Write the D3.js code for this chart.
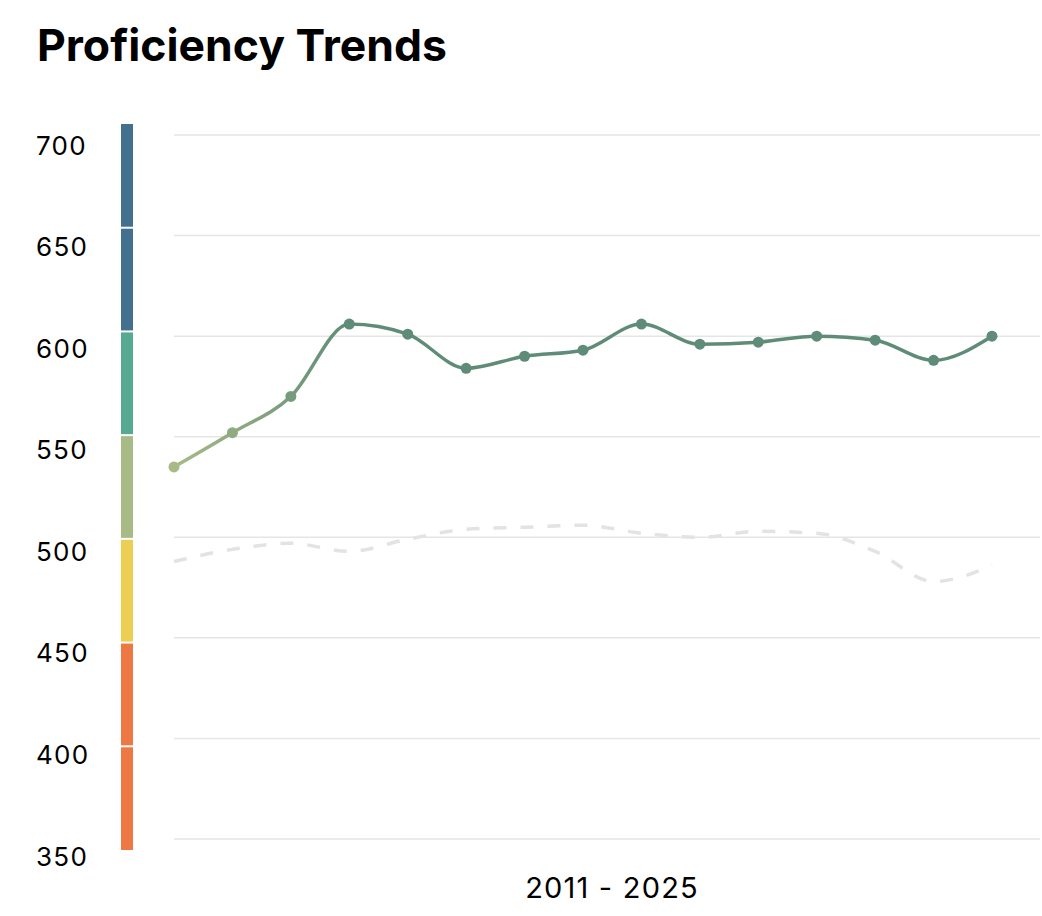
<!DOCTYPE html>
<html>
<head>
<meta charset="utf-8">
<script src="https://cdn.jsdelivr.net/npm/d3@7"></script>
<style>
  body { margin: 0; background: #fff; }
  svg { display: block; font-family: Inter, "Noto Sans", sans-serif; }
</style>
</head>
<body>
<svg width="1042" height="916"></svg>
<script>
// chart values
const years     = [2011, 2012, 2013, 2014, 2015, 2016, 2017, 2018, 2019, 2020, 2021, 2022, 2023, 2024, 2025];
const scores    = [535, 552, 570, 606, 601, 584, 590, 593, 606, 596, 597, 600, 598, 588, 600];
const reference = [488, 494, 497, 493, 499, 504, 505, 506, 502, 500, 503, 502, 493, 478, 486];
const yTicks    = [350, 400, 450, 500, 550, 600, 650, 700];
const bands     = [
    {from: 650, to: 700, color: "#44708f"},
    {from: 600, to: 650, color: "#44708f"},
    {from: 550, to: 600, color: "#55aa91"},
    {from: 500, to: 550, color: "#a8bb86"},
    {from: 450, to: 500, color: "#ecce52"},
    {from: 400, to: 450, color: "#ee7844"},
    {from: 350, to: 400, color: "#ee7844"}
];
const title  = "Proficiency Trends";
const xLabel = "2011 - 2025";

const svg = d3.select("svg");

const x = d3.scaleLinear().domain([2011, 2025]).range([174, 992]);
const y = d3.scaleLinear().domain([350, 700]).range([839, 135]);
const yBar   = d3.scaleLinear().domain([350, 700]).range([850, 124]);
const yLabel = d3.scaleLinear().domain([350, 700]).range([856, 145]);

svg.append("text")
    .attr("x", 37).attr("y", 61)
    .attr("font-size", 44.5).attr("font-weight", 700)
    .attr("fill", "#000")
    .text(title);

// grid
svg.append("g")
    .selectAll("line")
    .data(yTicks)
    .join("line")
    .attr("x1", 174).attr("x2", 1040)
    .attr("y1", d => y(d)).attr("y2", d => y(d))
    .attr("stroke", "#e5e5e5").attr("stroke-width", 1.5);

// colour band axis
svg.append("g")
    .selectAll("rect")
    .data(bands)
    .join("rect")
    .attr("x", 121).attr("width", 12)
    .attr("y", d => yBar(d.to) + (d.to === 700 ? 0 : 1))
    .attr("height", d => yBar(d.from) - yBar(d.to) - (d.to === 700 ? 1 : 2) + (d.from === 350 ? 1 : 0))
    .attr("fill", d => d.color);

svg.append("g")
    .selectAll("text")
    .data(yTicks)
    .join("text")
    .attr("x", 36).attr("y", d => yLabel(d))
    .attr("dominant-baseline", "central")
    .attr("font-size", 26)
    .attr("letter-spacing", 1.3)
    .attr("fill", "#000")
    .text(d => d);

// dashed reference line
const line = d3.line()
    .x((d, i) => x(years[i]))
    .y(d => y(d))
    .curve(d3.curveMonotoneX);

svg.append("path")
    .attr("d", line(reference))
    .attr("fill", "none")
    .attr("stroke", "#e3e3e3")
    .attr("stroke-width", 3.5)
    .attr("stroke-dasharray", "13,14");

// main line with gradient
const c0 = "#a8bb86", c1 = "#5f8c78";
const grad = svg.append("defs").append("linearGradient")
    .attr("id", "lg")
    .attr("gradientUnits", "userSpaceOnUse")
    .attr("x1", x(2011)).attr("x2", x(2014))
    .attr("y1", 0).attr("y2", 0);
grad.append("stop").attr("offset", 0).attr("stop-color", c0);
grad.append("stop").attr("offset", 1).attr("stop-color", c1);

svg.append("path")
    .attr("d", line(scores))
    .attr("fill", "none")
    .attr("stroke", "url(#lg)")
    .attr("stroke-width", 3.5);

const mix = d3.interpolateRgb(c0, c1);
svg.append("g")
    .selectAll("circle")
    .data(scores)
    .join("circle")
    .attr("cx", (d, i) => x(years[i]))
    .attr("cy", d => y(d))
    .attr("r", 5.5)
    .attr("fill", (d, i) => mix(Math.min(1, i / 3)));

svg.append("text")
    .attr("x", 612).attr("y", 898)
    .attr("text-anchor", "middle")
    .attr("font-size", 29)
    .attr("letter-spacing", 1.2)
    .attr("fill", "#000")
    .text(xLabel);
</script>
</body>
</html>
